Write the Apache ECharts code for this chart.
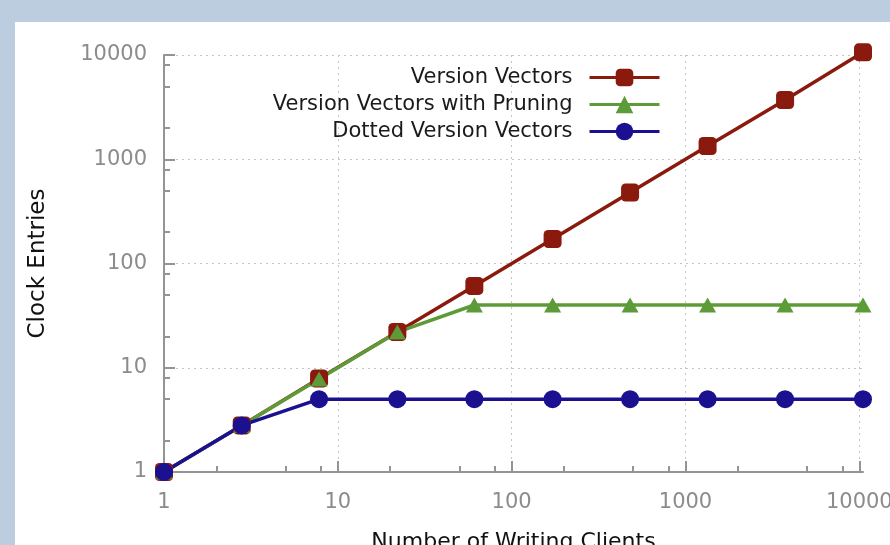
<!DOCTYPE html>
<html>
<head>
<meta charset="utf-8">
<script src="https://cdn.jsdelivr.net/npm/echarts@6/dist/echarts.min.js"></script>
<style>
  html, body { margin: 0; padding: 0; background: #bccde0; }
  #panel { position: absolute; left: 15px; top: 22px; right: 0; bottom: 0; background: #ffffff; }
  #main { position: absolute; left: 0; top: 0; width: 890px; height: 545px; }
</style>
</head>
<body>
<div id="panel"></div>
<div id="main"></div>
<script>
// number of writing clients (x) and clock entries per scheme (y)
var clients = [1, 2.8, 7.8, 22, 61, 172, 480, 1340, 3740, 10500]
var versionVectors = [1, 2.8, 7.9, 22, 61, 172, 480, 1340, 3700, 10600]
var pruning = [1, 2.8, 7.8, 22, 40, 40, 40, 40, 40, 40]
var dotted = [1, 2.8, 5, 5, 5, 5, 5, 5, 5, 5]

var majorTicks = [1, 10, 100, 1000, 10000]
var minorTicks = [2, 5, 8, 20, 50, 80, 200, 500, 800, 2000, 5000, 8000]

var seriesNames = ['Version Vectors', 'Version Vectors with Pruning', 'Dotted Version Vectors']

function pairs(ys) {
  return clients.map(function (x, i) { return [x, ys[i]] })
}

var FONT = 'DejaVu Sans'
var axisGray = '#949494'
var labelGray = '#8c8c8c'

function mainAxis(isX) {
  return {
    type: 'log',
    logBase: 10,
    min: 1,
    max: isX ? 10500 : 10000,
    name: isX ? 'Number of Writing Clients' : 'Clock Entries',
    nameLocation: 'middle',
    nameGap: isX ? 59 : 114,
    nameTextStyle: { fontFamily: FONT, fontSize: isX ? 22 : 23, color: '#111111' },
    axisLine: { show: true, lineStyle: { color: axisGray, width: 2 } },
    axisTick: { show: true, inside: true, length: 11, customValues: majorTicks, lineStyle: { color: axisGray, width: 2 } },
    axisLabel: {
      customValues: majorTicks,
      margin: isX ? 20 : 17,
      fontFamily: FONT,
      fontSize: 21,
      color: labelGray,
      formatter: function (v) { return String(Math.round(v)) }
    },
    splitLine: { show: true, lineStyle: { color: '#c4c4c4', width: 1, type: [2, 4] } },
    minorTick: { show: false },
    minorSplitLine: { show: false }
  }
}

function minorAxis(isX) {
  return {
    type: 'log',
    logBase: 10,
    min: 1,
    max: isX ? 10500 : 10000,
    position: isX ? 'bottom' : 'left',
    axisLine: { show: false },
    axisTick: { show: true, inside: true, length: 6, customValues: minorTicks, lineStyle: { color: axisGray, width: 2 } },
    axisLabel: { show: false },
    splitLine: { show: false }
  }
}

var chart = echarts.init(document.getElementById('main'))
chart.setOption({
  backgroundColor: 'transparent',
  animation: false,
  grid: { left: 164, top: 55, right: 27, bottom: 73, containLabel: false, outerBoundsMode: 'none' },
  legend: {
    orient: 'vertical',
    align: 'right',
    right: 224,
    top: 62,
    itemWidth: 70,
    itemHeight: 22,
    itemGap: 6,
    data: seriesNames,
    lineStyle: { width: 3 },
    textStyle: { fontFamily: FONT, fontSize: 21, color: '#1a1a1a', padding: [0, 12, 0, 0] }
  },
  xAxis: [mainAxis(true), minorAxis(true)],
  yAxis: [mainAxis(false), minorAxis(false)],
  series: [
    {
      name: seriesNames[0],
      type: 'line',
      data: pairs(versionVectors),
      clip: false,
      symbol: 'roundRect',
      symbolSize: 18,
      itemStyle: { color: '#8b1a0e' },
      lineStyle: { color: '#8b1a0e', width: 3.5 }
    },
    {
      name: seriesNames[1],
      type: 'line',
      data: pairs(pruning),
      clip: false,
      symbol: 'triangle',
      symbolSize: [17, 15],
      itemStyle: { color: '#5c9b38' },
      lineStyle: { color: '#5c9b38', width: 3.5 }
    },
    {
      name: seriesNames[2],
      type: 'line',
      data: pairs(dotted),
      clip: false,
      symbol: 'circle',
      symbolSize: 18,
      itemStyle: { color: '#1b1190' },
      lineStyle: { color: '#1b1190', width: 3.5 }
    }
  ]
})
</script>
</body>
</html>
